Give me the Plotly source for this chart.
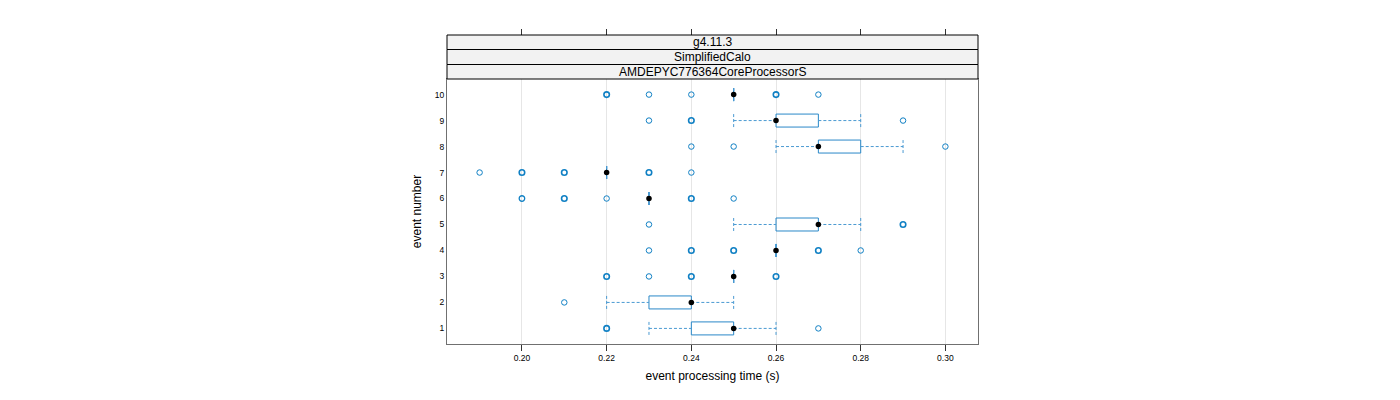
import plotly.graph_objects as go

events = [1, 2, 3, 4, 5, 6, 7, 8, 9, 10]
q1 = [0.24, 0.23, 0.25, 0.26, 0.26, 0.23, 0.22, 0.27, 0.26, 0.25]
median = [0.25, 0.24, 0.25, 0.26, 0.27, 0.23, 0.22, 0.27, 0.26, 0.25]
q3 = [0.25, 0.24, 0.25, 0.26, 0.27, 0.23, 0.22, 0.28, 0.27, 0.25]
whisker_lo = [0.23, 0.22, 0.25, 0.26, 0.25, 0.23, 0.22, 0.26, 0.25, 0.25]
whisker_hi = [0.26, 0.25, 0.25, 0.26, 0.28, 0.23, 0.22, 0.29, 0.28, 0.25]
# outliers per event: (value, count)
outliers = {
    1: [(0.22, 3), (0.27, 1)],
    2: [(0.21, 1)],
    3: [(0.22, 3), (0.23, 1), (0.24, 3), (0.26, 3)],
    4: [(0.23, 1), (0.24, 3), (0.25, 3), (0.27, 3), (0.28, 1)],
    5: [(0.23, 1), (0.29, 3)],
    6: [(0.20, 2), (0.21, 3), (0.22, 1), (0.24, 3), (0.25, 1)],
    7: [(0.19, 1), (0.20, 3), (0.21, 3), (0.23, 3), (0.24, 1)],
    8: [(0.24, 1), (0.25, 1), (0.30, 1)],
    9: [(0.23, 1), (0.24, 3), (0.29, 1)],
    10: [(0.22, 3), (0.23, 1), (0.24, 1), (0.26, 3), (0.27, 1)],
}
strip_labels = ["g4.11.3", "SimplifiedCalo", "AMDEPYC776364CoreProcessorS"]
x_ticks = [0.20, 0.22, 0.24, 0.26, 0.28, 0.30]
x_tick_text = ["0.20", "0.22", "0.24", "0.26", "0.28", "0.30"]

BOX_COL = "#2a88c8"
WHISK_COL = "#4a9ad2"
OUT_COL = "#1080c4"
H = 0.25

fig = go.Figure()

# boxes
bx, by = [], []
for e, a, b in zip(events, q1, q3):
    bx += [a, b, b, a, a, None]
    by += [e - H, e - H, e + H, e + H, e - H, None]
fig.add_trace(go.Scatter(x=bx, y=by, mode="lines", line=dict(color=BOX_COL, width=1),
                         hoverinfo="skip", showlegend=False))
# whiskers (dashed)
wx, wy = [], []
for e, lo, a, b, hi in zip(events, whisker_lo, q1, q3, whisker_hi):
    wx += [lo, a, None, b, hi, None, lo, lo, None, hi, hi, None]
    wy += [e, e, None, e, e, None, e - H, e + H, None, e - H, e + H, None]
fig.add_trace(go.Scatter(x=wx, y=wy, mode="lines", line=dict(color=WHISK_COL, width=1, dash="3px,2px"),
                         hoverinfo="skip", showlegend=False))
# outliers
for mult, width in [(1, 1), (2, 1.3), (3, 1.6)]:
    ox, oy = [], []
    for e in events:
        for v, c in outliers[e]:
            if c == mult:
                ox.append(v)
                oy.append(e)
    if ox:
        fig.add_trace(go.Scatter(x=ox, y=oy, mode="markers",
                                 marker=dict(symbol="circle-open", size=5.5, color=OUT_COL,
                                             line=dict(width=width, color=OUT_COL)),
                                 hoverinfo="skip", showlegend=False))
# medians
fig.add_trace(go.Scatter(x=median, y=events, mode="markers",
                         marker=dict(symbol="circle", size=5.5, color="black"),
                         hoverinfo="skip", showlegend=False))
# invisible trace for top axis
fig.add_trace(go.Scatter(x=[x_ticks[0]], y=[1], xaxis="x2", mode="markers",
                         marker=dict(opacity=0), hoverinfo="skip", showlegend=False))

W, Hfig = 1400, 400
left, right, top, bottom = 447, 978, 35, 344
panel_top = 79
ph = bottom - top


def py(ypix):
    return (bottom - ypix) / ph


strip_edges = [35, 49.5, 64.5, 79]
for i, lab in enumerate(strip_labels):
    y0 = py(strip_edges[i + 1])
    y1 = py(strip_edges[i])
    fig.add_shape(type="rect", xref="paper", yref="paper", x0=0, x1=1, y0=y0, y1=y1,
                  fillcolor="#f2f2f2", line=dict(color="black", width=1), layer="above")
    fig.add_annotation(xref="paper", yref="paper", x=0.5, y=(y0 + y1) / 2, text=lab,
                       xanchor="center", yanchor="middle",
                       showarrow=False, font=dict(size=12, color="black",
                                                  family="Liberation Sans, Arial, sans-serif"))

xrange = [0.19 - 0.11 * 0.07, 0.30 + 0.11 * 0.07]
fig.update_layout(
    width=W, height=Hfig,
    margin=dict(l=left, r=W - right, t=top, b=Hfig - bottom, pad=0),
    paper_bgcolor="white", plot_bgcolor="white",
    font=dict(family="Liberation Sans, Arial, sans-serif", color="black"),
    xaxis=dict(range=xrange, tickvals=x_ticks, ticktext=x_tick_text, ticks="outside", ticklen=6,
               tickcolor="#333333", tickfont=dict(size=8.5), showgrid=True, gridcolor="#e6e6e6",
               gridwidth=1, zeroline=False, showline=True, linecolor="#707070", linewidth=1,
               mirror=True,
               title=dict(text="event processing time (s)", font=dict(size=12), standoff=9)),
    xaxis2=dict(range=xrange, overlaying="x", side="top", anchor="free", position=1,
                tickvals=x_ticks, ticks="outside", ticklen=6, tickcolor="#333333",
                showticklabels=False, showgrid=False, zeroline=False, showline=False),
    yaxis=dict(domain=[0, py(panel_top)], range=[0.4, 10.6], tickvals=events,
               ticktext=[str(e) for e in events],
               ticks="", tickfont=dict(size=8.5), showgrid=False, zeroline=False,
               showline=True, linecolor="#707070", linewidth=1, mirror=True,
               title=dict(text="event number", font=dict(size=12), standoff=10)),
)

fig.write_html("out.html")
